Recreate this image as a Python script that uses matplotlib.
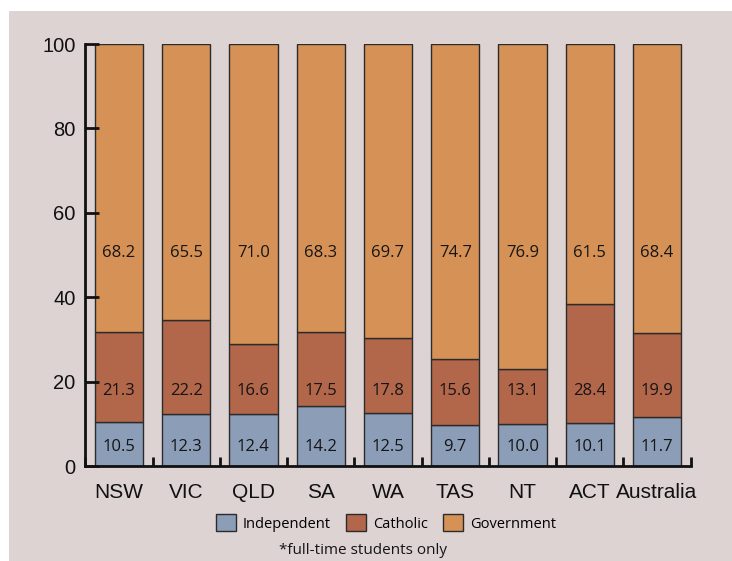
import matplotlib
matplotlib.use('Agg')
import matplotlib.pyplot as plt
from matplotlib.patches import Rectangle
import numpy as np

# Данные: доля учащихся по секторам, %
states = ['NSW', 'VIC', 'QLD', 'SA', 'WA', 'TAS', 'NT', 'ACT', 'Australia']
independent = [10.5, 12.3, 12.4, 14.2, 12.5, 9.7, 10.0, 10.1, 11.7]
catholic = [21.3, 22.2, 16.6, 17.5, 17.8, 15.6, 13.1, 28.4, 19.9]
government = [68.2, 65.5, 71.0, 68.3, 69.7, 74.7, 76.9, 61.5, 68.4]
series_names = ['Independent', 'Catholic', 'Government']
yticks = [0, 20, 40, 60, 80, 100]

bg = '#ddd3d3'
colors = ['#8c9db8', '#b2664a', '#d69256']
edge = '#2b2b2b'
# высота, на которой пишутся подписи значений в каждом сегменте
label_y = [4.6, 17.8, 50.5]

fig = plt.figure(figsize=(7.32, 5.61), dpi=100)
fig.patch.set_facecolor('white')
fig.add_artist(Rectangle((9 / 732, 0), 1, 550 / 561, transform=fig.transFigure,
                         facecolor=bg, edgecolor='none', zorder=0))

ax = fig.add_axes([85.3 / 732, 95 / 561, 605.4 / 732, 422 / 561])
ax.set_facecolor('none')

x = np.arange(len(states))
bottom = np.zeros(len(states))
handles = []
for vals, col, ly in zip([independent, catholic, government], colors, label_y):
    bars = ax.bar(x, vals, width=0.72, bottom=bottom, color=col,
                  edgecolor=edge, linewidth=1, zorder=1)
    handles.append(bars)
    for xi, v in zip(x, vals):
        ax.text(xi, ly, f'{v:.1f}', ha='center', va='center', fontsize=12,
                family='Open Sans', color='#151515', zorder=3)
    bottom += np.array(vals)

ax.set_xlim(-0.5, len(states) - 0.5)
ax.set_ylim(0, 100)

for s in ['top', 'right']:
    ax.spines[s].set_visible(False)
for s in ['left', 'bottom']:
    ax.spines[s].set_linewidth(2)
    ax.spines[s].set_color('#111111')

ax.set_yticks(yticks)
ax.tick_params(axis='y', direction='in', length=10, width=2, pad=7,
               labelsize=14.5, colors='#111111')
ax.set_xticks(x)
ax.set_xticklabels(states)
ax.tick_params(axis='x', which='major', length=0, pad=12, labelsize=15,
               colors='#111111')
ax.set_xticks(np.arange(len(states) + 1) - 0.5, minor=True)
ax.tick_params(axis='x', which='minor', direction='in', length=6.5, width=2,
               color='#111111')
for lab in ax.get_xticklabels() + ax.get_yticklabels():
    lab.set_family('Liberation Sans')

ax.legend(handles, series_names, loc='center', ncol=3, frameon=False,
          bbox_to_anchor=(386 / 732, (561 - 523) / 561),
          bbox_transform=fig.transFigure,
          prop={'family': 'Open Sans', 'size': 10.5},
          handlelength=1.37, handleheight=1.37, handletextpad=0.46,
          columnspacing=1.07)

fig.text(363 / 732, (561 - 551) / 561, '*full-time students only',
         ha='center', va='center', fontsize=11, family='Open Sans',
         color='#151515')

fig.savefig('out.png', dpi=100)
